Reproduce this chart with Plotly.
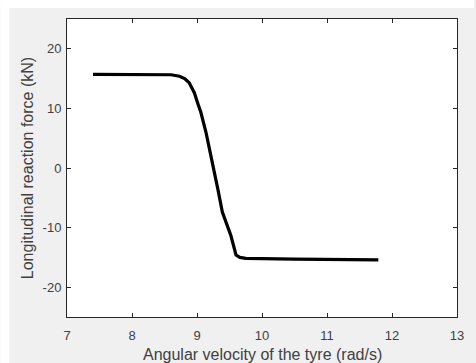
import plotly.graph_objects as go

# Angular velocity of the tyre (rad/s) and longitudinal reaction force (kN)
omega = [7.40, 8.00, 8.42, 8.60, 8.73, 8.81, 8.88, 8.96, 9.01, 9.06, 9.14,
         9.23, 9.32, 9.39, 9.52, 9.60, 9.66, 9.75, 10.50, 11.79]
force = [15.7, 15.7, 15.7, 15.65, 15.4, 15.0, 14.3, 12.6, 10.9, 9.3, 5.9,
         1.5, -3.5, -7.4, -11.3, -14.6, -15.0, -15.15, -15.3, -15.4]

x_ticks = [7, 8, 9, 10, 11, 12, 13]
y_ticks = [-20, -10, 0, 10, 20]
y_tick_text = ["-20", "-10", "0", "10", "20"]

W, H = 476, 363
L, R, T, B = 67, 17, 19, 46
pw, ph = W - L - R, H - T - B

axis_color = "#262626"
label_color = "#404040"
font_family = "Liberation Sans, Arial, sans-serif"

fig = go.Figure(
    go.Scatter(
        x=omega, y=force, mode="lines",
        line=dict(color="black", width=3.2),
        hoverinfo="skip", showlegend=False,
    )
)

common = dict(
    showline=True, linecolor=axis_color, linewidth=1, mirror="allticks",
    ticks="inside", ticklen=4, tickcolor=axis_color, tickwidth=1,
    showgrid=False, zeroline=False,
    tickfont=dict(family=font_family, size=13, color=label_color),
)

fig.update_xaxes(range=[7, 13], tickvals=x_ticks, ticklabelstandoff=6, **common)
fig.update_yaxes(range=[-25, 25], tickvals=y_ticks, ticktext=y_tick_text,
                 ticklabelstandoff=2, **common)

# White margin strips along the left and top of the grey figure window
def px_x(p):
    return (p - L) / pw

def px_y(p):
    return (H - B - p) / ph

shapes = [
    dict(type="rect", xref="paper", yref="paper",
         x0=px_x(0), x1=px_x(9), y0=px_y(H), y1=px_y(0),
         fillcolor="white", line_width=0, layer="below"),
    dict(type="rect", xref="paper", yref="paper",
         x0=px_x(0), x1=px_x(W), y0=px_y(8), y1=px_y(0),
         fillcolor="white", line_width=0, layer="below"),
]

annotations = [
    dict(text="Angular velocity of the tyre (rad/s)", xref="paper", yref="paper",
         x=0.5, y=px_y(354), xanchor="center", yanchor="middle", showarrow=False,
         font=dict(family=font_family, size=16, color=label_color)),
    dict(text="Longitudinal reaction force (kN)", xref="paper", yref="paper",
         x=px_x(27), y=0.5, xanchor="center", yanchor="middle", showarrow=False,
         textangle=-90,
         font=dict(family=font_family, size=16, color=label_color)),
]

fig.update_layout(
    width=W, height=H,
    margin=dict(l=L, r=R, t=T, b=B, pad=0),
    paper_bgcolor="#f0f0f0", plot_bgcolor="white",
    shapes=shapes, annotations=annotations,
)

fig.write_html("out.html")
